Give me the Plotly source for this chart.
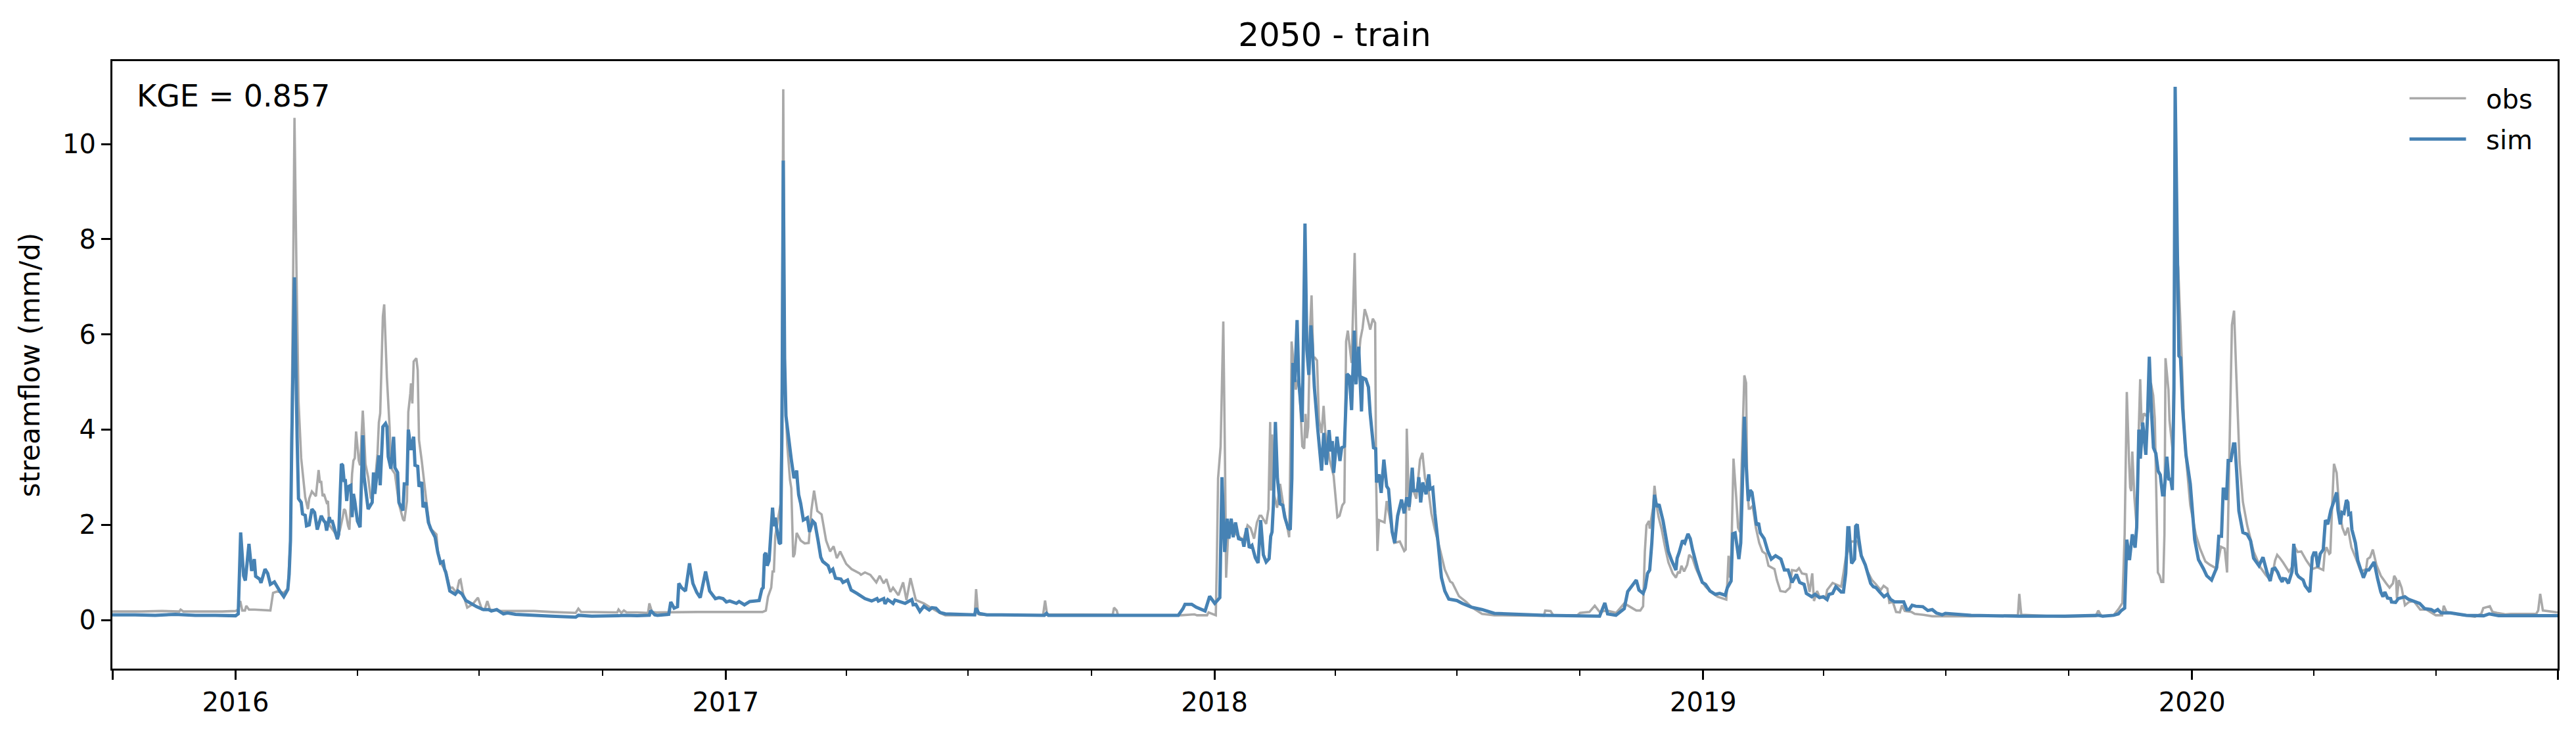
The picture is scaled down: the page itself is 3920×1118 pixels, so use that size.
import pandas as pd
import plotly.graph_objects as go

# (days since 1 January of the named year, streamflow in mm/d)
obs_2016 = [(-92,0.18),(-70,0.18),(-55,0.19),(-42,0.18),(-41,0.22),(-39,0.18),(-25,0.18),(-10,0.18),(0,0.19),(2,0.22),(3.5,0.4),(5,0.2),(7,0.2),(8,0.3),(10,0.22),(14,0.22),(26,0.2),(28,0.57),(31,0.6),(36,0.57),(39,0.66),(41,1.7),(43,7.3),(44,10.55),(45.5,7.3),(47,4.6),(49,3.4),(52,2.58),(54,2.33),(55,2.55),(57,2.7),(60,2.6),(62,3.15),(63,2.9),(64,2.9),(65,2.6),(66,2.65),(68,2.47),(69,2.5),(70,2.0),(74,1.84),(76,1.7),(78,1.9),(80,2.16),(81,2.33),(82,2.3),(84,1.98),(85,1.9),(87,3.07),(88,3.35),(89,3.4),(90,3.96),(92,3.35),(93,3.25),(95,4.4),(96,3.88),(97,3.28),(99,3.0),(101,2.55),(104,2.86),(106,3.5),(107,4.15),(108,4.34),(110,6.38),(111,6.63),(113,5.1),(115,4.06),(116,3.2),(119,3.07),(122,2.44),(125,2.12),(126,2.08),(128,2.5),(129,4.37),(130.5,4.76),(131,4.97),(132,4.55),(133,5.43),(135,5.5),(136,5.25),(137,3.78),(139,3.35),(141,2.86),(143,2.37),(145,1.94),(150,1.8),(151,1.45),(153,1.2),(157,1.03),(160,0.68),(162,0.68),(165,0.57),(167,0.83),(168,0.85),(170,0.54),(173,0.26),(177,0.33),(181,0.47),(184,0.22),(186,0.22),(188,0.4),(190,0.22),(198,0.19),(223,0.19),(236,0.17),(254,0.15),(256,0.24),(258,0.17),(285,0.16),(286,0.22),(288,0.15),(290,0.2),(292,0.16),(300,0.16),(308,0.15),(309,0.35),(311,0.17),(314,0.16)]
sim_2016 = [(-92,0.11),(-75,0.11),(-60,0.1),(-45,0.12),(-30,0.1),(-15,0.1),(0,0.09),(2,0.13),(3.8,1.84),(6,0.93),(7.3,0.83),(10,1.6),(12,1.03),(14,1.28),(15,0.92),(18,0.86),(19,0.78),(22,1.07),(24,0.98),(26,0.75),(29,0.8),(33,0.61),(36,0.49),(39,0.64),(40,0.96),(41,1.67),(42,3.8),(44,7.2),(46,3.78),(47,2.55),(49,2.47),(50,2.23),(52,2.2),(53,1.98),(55,2.0),(57,2.33),(59,2.26),(61,1.9),(64,2.19),(66,2.08),(67,2.05),(68,1.88),(70,2.16),(71,2.05),(72,2.1),(74,1.9),(76,1.7),(77,1.8),(79,3.28),(80,3.25),(81,2.93),(82,2.93),(83,2.5),(84,2.8),(86,2.83),(87,2.16),(88,2.65),(89,2.5),(91,2.08),(93,1.95),(95,3.88),(96,3.0),(99,2.33),(102,2.47),(103,3.1),(104,2.65),(107,3.46),(108,2.83),(110,4.06),(112,4.13),(113,4.06),(114,3.43),(116,3.18),(118,3.85),(119,3.2),(121,3.1),(122,2.47),(125,2.3),(126,2.86),(128,2.86),(129,4.0),(131,3.57),(133,3.85),(134,3.25),(136,3.23),(137,2.8),(139,2.9),(140,2.37),(142,2.47),(144,2.05),(146,1.9),(149,1.74),(151,1.42),(153,1.2),(155,1.23),(156,1.07),(157,1.0),(160,0.61),(164,0.54),(166,0.61),(169,0.55),(172,0.41),(180,0.28),(185,0.22),(189,0.22),(191,0.19),(195,0.22),(200,0.13),(203,0.15),(209,0.12),(236,0.08),(254,0.06),(256,0.1),(266,0.08),(286,0.09),(290,0.1),(300,0.09),(309,0.1),(310,0.2),(313,0.11)]

obs_2017 = [(-51,0.16),(-21.6,0.17),(27.5,0.17),(30,0.2),(31.6,0.49),(34,0.68),(35,1.02),(36,1.02),(37,1.76),(41,2.45),(42,5.0),(43,11.15),(44,5.0),(46,3.68),(48,2.95),(49,2.77),(50.4,1.32),(51.5,1.39),(53,1.83),(56,1.67),(59,1.61),(62,1.62),(64,2.31),(66,2.72),(68.4,2.29),(71.6,2.22),(75,1.67),(78,1.44),(80.6,1.55),(83,1.3),(85.5,1.44),(90,1.18),(94,1.07),(100,0.98),(101,0.95),(104,1.0),(108,0.95),(112.5,0.79),(115,0.93),(118,0.77),(120,0.86),(123,0.59),(125,0.68),(129,0.52),(132.5,0.79),(135,0.42),(138,0.88),(142,0.42),(148,0.35),(153,0.26),(160,0.15),(164,0.1),(175,0.1),(186,0.11),(187,0.65),(188.5,0.13),(190,0.11),(237,0.1),(238.5,0.41),(240,0.12),(289,0.11),(290,0.26),(292,0.2),(293,0.1),(340,0.1),(350,0.12),(352,0.1)]
sim_2017 = [(-51,0.1),(-42.5,0.12),(-41,0.38),(-38.5,0.25),(-36,0.28),(-35,0.77),(-33,0.68),(-30,0.61),(-27,1.19),(-24.5,0.77),(-21.6,0.58),(-19,0.47),(-15,1.02),(-12,0.61),(-7.7,0.45),(-5,0.47),(-2,0.45),(0.5,0.38),(3,0.4),(8,0.35),(10,0.39),(14,0.32),(18,0.39),(25,0.41),(27,0.65),(28,0.68),(29,1.37),(30,1.41),(31,1.14),(32.4,1.25),(35,2.36),(36,1.97),(37,2.15),(38,1.94),(40,1.62),(41,1.6),(42,3.9),(43,9.65),(44,5.5),(45,4.29),(46,4.06),(49,3.37),(51,2.98),(53,3.14),(53.6,2.91),(54.5,2.63),(56,2.45),(58,2.1),(61,2.15),(62.6,1.85),(65,2.08),(66.7,2.03),(69,1.67),(71,1.32),(72.5,1.23),(76.5,1.14),(78,1.02),(80,1.07),(82,0.88),(86,0.86),(87.6,0.79),(91,0.84),(93.7,0.63),(98,0.56),(104,0.45),(109,0.4),(113,0.45),(114,0.4),(118,0.45),(119,0.34),(121,0.43),(125,0.35),(126.4,0.42),(134,0.35),(139,0.43),(140,0.32),(142,0.33),(145,0.18),(148,0.29),(152,0.21),(154,0.26),(157,0.25),(160,0.16),(164,0.13),(175,0.12),(186,0.11),(187,0.25),(189,0.14),(195,0.11),(238,0.1),(239.5,0.14),(241,0.1),(290,0.1),(338,0.1),(341.5,0.24),(343,0.33),(348,0.33)]

obs_2018 = [(-13.7,0.1),(-5.5,0.1),(-4.4,0.16),(1,0.1),(1.8,1.28),(2.7,2.98),(4.6,3.65),(6.6,6.27),(7.9,3.26),(8.7,0.89),(10,1.68),(12.5,1.96),(16.6,1.79),(21.5,1.68),(24.7,1.99),(27,1.93),(29.6,1.71),(31.7,2.05),(33.7,2.19),(35,2.19),(38.6,2.02),(40.3,2.33),(41.6,4.16),(42.2,2.72),(43,3.9),(44.4,2.64),(46.8,2.36),(49,2.86),(51.7,2.36),(55.8,1.74),(57,4.1),(57.6,5.85),(60.7,4.84),(63,5.12),(65.6,3.65),(67,3.6),(68,4.33),(69,3.82),(70,4.05),(71.4,6.13),(72.5,6.82),(73.8,5.51),(75,5.51),(76.6,5.45),(78,4.21),(80,3.93),(81.5,4.5),(82.8,3.93),(86,3.37),(89,3.03),(91.8,2.16),(93.4,2.19),(95.5,2.41),(97,2.47),(98.3,5.85),(99.6,6.08),(102.4,5.4),(104.7,7.71),(106.5,5.12),(109,5.9),(110.6,6.13),(112.2,6.53),(113.9,6.38),(116.3,6.1),(118.3,6.33),(120,6.24),(120.7,2.98),(121.7,1.45),(122.9,2.1),(127,2.05),(128.6,2.5),(131,2.13),(134.3,1.62),(138.4,1.65),(141.7,1.45),(142.8,1.48),(143.6,4.02),(145.4,2.3),(147.4,2.81),(150.7,2.55),(153.5,3.37),(155.3,3.51),(157.2,2.98),(159.7,2.75),(162,2.24),(164.6,1.9),(168.7,1.45),(172,1.06),(176,0.81),(177.7,0.78),(182.6,0.5),(188,0.38),(192,0.27),(199.8,0.13),(209,0.1),(246,0.09),(247,0.2),(251,0.19),(253,0.1),(271,0.1),(273,0.15),(280,0.17),(284,0.3),(287.6,0.17),(293,0.2),(300,0.15),(306,0.35),(309,0.3),(315,0.2),(318,0.2)]
sim_2018 = [(-13.7,0.27),(-7,0.19),(-3.6,0.5),(0.2,0.35),(4,0.47),(5.6,3.0),(7.6,1.43),(9.5,2.13),(10.8,1.71),(12.5,2.13),(14,1.74),(15.7,2.05),(18,1.71),(21,1.68),(22,1.54),(24,1.93),(26,1.52),(28,1.57),(30.5,1.31),(32.6,1.2),(34.5,2.1),(36.5,1.37),(38.6,1.22),(40.8,1.29),(42,1.76),(43,1.85),(44,2.41),(45.5,4.16),(47,2.98),(49,2.44),(51,2.41),(52.5,2.16),(55,1.93),(56.6,1.9),(57.8,2.98),(58.6,5.4),(60,5.0),(61.7,6.3),(63,5.0),(65.5,4.16),(66.4,5.79),(67.6,8.33),(69,5.68),(70.5,5.15),(72,6.19),(73,5.79),(74.6,4.89),(77,4.05),(80,3.14),(81.6,3.93),(83.6,3.26),(85.6,3.99),(87,3.54),(88,3.76),(89,3.09),(91.5,3.85),(93.7,3.34),(95,3.62),(97,3.65),(99,5.17),(100.8,5.12),(102.4,4.41),(104.4,6.08),(105.7,4.95),(107.7,5.74),(109.8,4.38),(110.6,5.09),(113,5.06),(115,4.89),(116.3,4.33),(118.8,3.62),(120.4,3.6),(121,2.89),(122.9,3.06),(124.5,2.67),(126.5,3.37),(128.6,2.81),(130,2.75),(132.7,1.85),(134.6,1.62),(136.8,2.19),(139.7,2.53),(141.7,2.24),(143.6,2.58),(145.4,2.38),(147.7,3.2),(148.7,2.72),(151.5,2.72),(152.6,3.0),(154,2.47),(155.6,2.89),(158,2.64),(160,3.06),(161,2.75),(163,2.78),(164.6,2.24),(167,1.62),(169.5,0.89),(172,0.61),(175,0.44),(181,0.41),(185,0.35),(192,0.27),(199.8,0.22),(209,0.14),(247,0.1),(287.6,0.08),(291.5,0.36),(293.6,0.13),(299.8,0.1),(306,0.24),(308.6,0.6),(312.4,0.74),(315,0.84),(317,0.63)]

obs_2019 = [(-44.9,0.29),(-43.6,1.44),(-42.4,1.99),(-40.5,2.08),(-40,1.92),(-37.5,2.36),(-36.4,2.82),(-34.8,2.4),(-33.4,2.17),(-31,1.9),(-28.5,1.53),(-26,1.21),(-22.8,0.98),(-20.4,0.89),(-18.7,1.02),(-17.6,0.98),(-16.3,1.14),(-14.3,1.02),(-12,1.16),(-10.5,1.37),(-8,1.3),(-5.6,1.09),(-1.6,0.84),(1.7,0.7),(5.8,0.59),(10.7,0.49),(17.2,0.43),(18,0.79),(18.9,1.35),(20,0.89),(21,1.44),(22.6,3.39),(24.6,2.59),(26,1.94),(27.4,1.85),(28.7,3.28),(30.7,5.14),(32,4.98),(32.8,2.82),(34,2.34),(35,2.34),(36.9,2.4),(39.3,1.94),(41.8,1.62),(44.2,1.44),(46.7,1.39),(48.7,1.14),(53.2,1.07),(55,0.84),(57.6,0.61),(61.4,0.59),(64.7,0.68),(66.3,1.05),(69.6,1.03),(71.5,1.09),(73.7,0.98),(77,0.96),(79.4,0.59),(81.4,0.98),(82.7,0.4),(85,0.61),(86.8,0.49),(91.7,0.49),(92.5,0.63),(96.6,0.78),(99,0.75),(103,0.7),(104.7,0.98),(106.4,1.3),(110.5,1.65),(115.4,1.65),(117,1.44),(119,1.3),(122.7,1.02),(126,0.84),(129,0.75),(132.5,0.63),(134.7,0.72),(137.5,0.66),(139,0.36),(141.6,0.38),(144,0.17),(146.8,0.16),(148.4,0.31),(150.5,0.19),(155.5,0.17),(158,0.13),(164.5,0.11),(171,0.08),(180.8,0.08),(200,0.08),(235,0.1),(236,0.55),(237.5,0.11),(270,0.07),(293,0.08),(295,0.2),(297,0.1)]
sim_2019 = [(-44.9,0.56),(-43.3,0.68),(-41.6,0.98),(-40,1.05),(-38.4,1.62),(-36.4,2.63),(-34.8,2.38),(-33,2.43),(-30,2.08),(-26,1.44),(-23.6,1.25),(-20.4,1.05),(-19.5,1.3),(-18,1.42),(-15.5,1.67),(-13.8,1.62),(-11.4,1.81),(-9.7,1.71),(-8,1.48),(-4,1.05),(-0.7,0.79),(1.7,0.75),(5,0.61),(9,0.54),(12.3,0.56),(16.4,0.52),(18,0.68),(20.8,0.82),(22,1.81),(23.8,1.83),(26.6,1.28),(28,1.62),(30.7,4.27),(32,3.28),(33.6,2.5),(35,2.73),(36.4,2.68),(38.5,2.27),(39.8,1.99),(41.3,2.04),(42.6,1.83),(45.5,1.71),(48.3,1.44),(50.8,1.28),(54,1.35),(58,1.28),(60.6,1.05),(63.4,1.05),(66.3,0.79),(69.6,0.96),(72,0.79),(75.3,0.75),(77,0.56),(81,0.49),(83.5,0.54),(86.8,0.47),(89.6,0.49),(92.5,0.43),(94,0.54),(96.6,0.56),(99,0.7),(103,0.59),(104.7,0.59),(106.4,0.98),(108,1.94),(108.8,1.94),(110.8,1.19),(113,1.28),(113.8,1.97),(115,2.01),(116,1.74),(118,1.35),(121,1.16),(125,0.77),(127,0.7),(129,0.68),(131.7,0.59),(135,0.49),(137.5,0.54),(140,0.43),(143,0.38),(149.7,0.38),(152,0.22),(153.8,0.22),(156,0.31),(158.7,0.29),(164,0.28),(167.7,0.2),(171,0.22),(174,0.15),(178.4,0.11),(180.8,0.14),(200,0.1),(236,0.08),(270,0.08),(295,0.1)]

obs_2020 = [(-66.7,0.08),(-58.5,0.1),(-54.4,0.25),(-52,0.36),(-50.3,1.8),(-48.7,4.79),(-47,3.32),(-46.2,2.79),(-45.4,2.71),(-44.6,3.54),(-43,2.56),(-41.3,1.95),(-39.7,4.07),(-38.7,5.06),(-37.6,4.07),(-36,4.34),(-34.5,4.3),(-32.3,4.38),(-30.7,4.98),(-29,4.72),(-27.8,4.23),(-26.6,2.56),(-25.5,1.0),(-24.2,0.93),(-22.9,0.8),(-21.5,0.8),(-20.6,1.8),(-19.8,5.5),(-17.6,4.83),(-16.8,4.19),(-14.4,3.54),(-13,6.35),(-12,7.86),(-10.3,7.4),(-7.8,5.59),(-5.4,3.7),(-1.3,2.41),(2.8,1.8),(6,1.5),(10,1.23),(13.4,1.16),(18.4,1.08),(21.6,1.54),(24.4,1.5),(26.2,1.0),(27.8,3.32),(29.8,6.2),(31.4,6.5),(33,5.2),(35.5,3.32),(38,2.48),(41.2,1.99),(46,1.44),(51,1.11),(55,0.95),(58.4,0.84),(60.5,1.02),(62,1.25),(63.6,1.37),(65.7,1.3),(68,1.21),(72.3,1.02),(74.7,1.11),(76.4,1.55),(78.8,1.43),(81.6,1.44),(85.4,1.25),(89.8,1.07),(93.5,1.11),(98,1.05),(99,1.39),(100.4,1.53),(102.5,1.39),(103.3,1.41),(104.7,2.45),(106,3.28),(108,3.09),(110,2.31),(112.3,1.94),(114.5,1.78),(116.4,1.94),(119,1.53),(123,1.25),(126,1.02),(130,1.07),(131,1.28),(133,1.32),(135,1.48),(137.7,1.16),(141,0.93),(145,0.77),(147.5,0.68),(150,0.77),(151,0.93),(152.4,0.86),(153,0.45),(154.4,0.84),(156.5,0.68),(159,0.31),(162,0.38),(165.5,0.4),(170.4,0.22),(175,0.22),(182,0.1),(186.8,0.1),(188,0.3),(190,0.17),(198,0.12),(211.3,0.07),(216,0.13),(217.5,0.25),(222.4,0.29),(224.4,0.17),(227.7,0.15),(234,0.12),(238,0.13),(257,0.13),(258.5,0.2),(260,0.55),(262,0.2),(273,0.16)]
sim_2020 = [(-66.7,0.08),(-58.5,0.1),(-55,0.13),(-52.8,0.2),(-50.3,0.25),(-48.7,1.69),(-46.7,1.26),(-44.6,1.8),(-42.5,1.52),(-41.3,1.95),(-39.7,4.0),(-38.6,3.39),(-36.8,4.15),(-34.5,3.47),(-33.2,4.3),(-31.9,5.53),(-30.4,4.45),(-28.8,3.62),(-27,3.5),(-25.3,3.13),(-23.7,3.05),(-22,2.63),(-20.9,2.63),(-18.8,3.43),(-17.3,2.94),(-16,2.98),(-14.7,2.73),(-13.5,4.83),(-12.6,11.2),(-11,7.86),(-9.8,5.55),(-8.6,5.51),(-7,4.45),(-4.5,3.47),(-1.3,2.86),(2,1.69),(4.8,1.27),(8.5,1.08),(11,0.93),(14.6,0.84),(18.4,1.1),(20,1.76),(22,1.76),(23.3,2.75),(24.4,2.75),(25.7,2.52),(27,3.35),(29,3.35),(31,3.7),(32,3.7),(33.4,3.09),(35,2.29),(38,1.84),(41.2,1.8),(43.7,1.67),(46,1.3),(50,1.14),(53,1.32),(56,1.0),(58.4,0.82),(60,1.07),(62,1.09),(64,1.0),(65.7,0.88),(67.4,0.8),(68,0.87),(70,0.86),(72,0.77),(74.7,1.02),(76,1.6),(78,0.98),(79.6,0.91),(83,0.84),(84.5,0.72),(88,0.59),(89.8,1.32),(91,1.41),(92.4,1.41),(94,1.11),(95.7,1.39),(98,1.48),(99.6,2.1),(101.4,2.01),(103.7,2.31),(106,2.5),(108,2.68),(109,2.31),(110.7,2.01),(112,2.26),(113.5,2.24),(115.3,2.52),(116.4,2.47),(117,2.22),(118.4,2.24),(119.4,1.9),(122,1.62),(123.8,1.25),(125.4,1.11),(128,0.89),(130.3,1.05),(132,1.05),(136,1.22),(138.5,0.88),(141,0.59),(142.6,0.49),(144,0.59),(146,0.46),(148.3,0.45),(149,0.38),(152,0.37),(154,0.45),(159,0.49),(161.4,0.44),(170,0.35),(173.7,0.24),(178.6,0.22),(181,0.18),(183.5,0.22),(186,0.15),(193,0.15),(200,0.12),(204.8,0.1),(217.8,0.09),(222,0.13),(229,0.09),(237.5,0.09),(273,0.09)]

series_years = [2016, 2017, 2018, 2019, 2020]
obs_by_year = [obs_2016, obs_2017, obs_2018, obs_2019, obs_2020]
sim_by_year = [sim_2016, sim_2017, sim_2018, sim_2019, sim_2020]

year_ticks = ["2016-01-01", "2017-01-01", "2018-01-01", "2019-01-01", "2020-01-01"]
year_labels = ["2016", "2017", "2018", "2019", "2020"]
quarter_ticks = [f"{y}-{m}-01" for y in year_labels for m in ("04", "07", "10")]
x_start = "2015-10-01"
x_end = "2020-09-30"


def build(by_year):
    xs, ys = [], []
    for year, pairs in zip(series_years, by_year):
        base = pd.Timestamp(f"{year}-01-01")
        for day, value in pairs:
            xs.append(base + pd.Timedelta(days=day))
            ys.append(value)
    return xs, ys


obs_x, obs_y = build(obs_by_year)
sim_x, sim_y = build(sim_by_year)

FONT = "DejaVu Sans"
GAP = "\u00a0\u00a0"
fig = go.Figure()
fig.add_trace(go.Scatter(x=obs_x, y=obs_y, mode="lines", name=GAP + "obs", legendgroup="obs",
                         line=dict(color="#a9a9a9", width=3.6, simplify=False)))
fig.add_trace(go.Scatter(x=sim_x, y=sim_y, mode="lines", name=GAP + "sim", legendgroup="sim",
                         line=dict(color="#4682b4", width=5, simplify=False)))

fig.update_layout(
    width=3920, height=1118, autosize=False,
    margin=dict(l=171, r=28, t=93, b=101, pad=0),
    paper_bgcolor="white", plot_bgcolor="white",
    font=dict(family=FONT, size=40, color="black"),
    title=dict(text="2050 - train", x=0.5181, xanchor="center", y=0.953, yanchor="middle",
               font=dict(family=FONT, size=50, color="black")),
    showlegend=True,
    legend=dict(x=0.9913, xanchor="right", y=0.974, yanchor="top", bgcolor="rgba(0,0,0,0)",
                borderwidth=0, itemwidth=86, tracegroupgap=7, traceorder="grouped",
                font=dict(family=FONT, size=40, color="black")),
    annotations=[dict(text="KGE = 0.857", xref="paper", yref="paper", x=0.0095, y=0.9425,
                      xanchor="left", yanchor="middle", showarrow=False,
                      font=dict(family=FONT, size=46, color="black"))],
)
fig.update_xaxes(
    type="date", range=[x_start, x_end], showgrid=False, zeroline=False,
    showline=True, linecolor="black", linewidth=3, mirror=True,
    ticks="outside", ticklen=14, tickwidth=3, tickcolor="black",
    tickmode="array",
    tickvals=[x_start] + year_ticks + [x_end],
    ticktext=[""] + year_labels + [""],
    tickangle=0, tickfont=dict(family=FONT, size=40, color="black"),
    minor=dict(tickmode="array", tickvals=quarter_ticks, ticks="outside", ticklen=8,
               tickwidth=2.4, tickcolor="black", showgrid=False),
)
fig.update_yaxes(
    range=[-1.02, 11.74], showgrid=False, zeroline=False,
    showline=True, linecolor="black", linewidth=3, mirror=True,
    ticks="outside", ticklen=14, tickwidth=3, tickcolor="black",
    tickmode="array", tickvals=[0, 2, 4, 6, 8, 10], ticktext=["0", "2", "4", "6", "8", "10"],
    tickfont=dict(family=FONT, size=40, color="black"),
    title=dict(text="streamflow (mm/d)", standoff=22, font=dict(family=FONT, size=42, color="black")),
)
fig.write_html("out.html", config={"displayModeBar": False},
               post_script="document.body.style.margin='0';")
